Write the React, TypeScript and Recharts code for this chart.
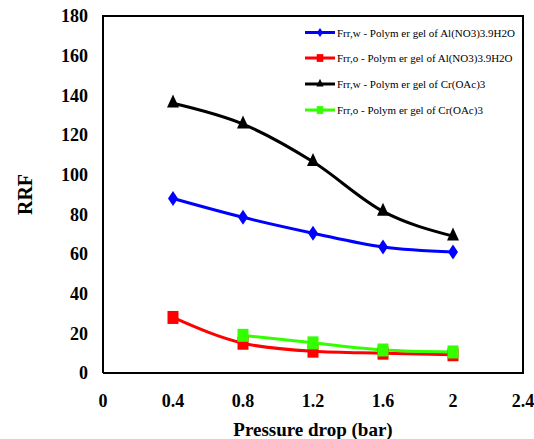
import React from 'react';
import * as Recharts from 'recharts';
import { LineChart, Line, XAxis, YAxis, Legend } from 'recharts';

const pressureDrop = [0.4, 0.8, 1.2, 1.6, 2.0];
const frrWAl = [88, 78.5, 70.5, 63.5, 61];
const frrOAl = [28, 15, 11, 10, 9.2];
const frrWCr = [136, 125.5, 106.5, 81.5, 69];
const frrOCr: (number | null)[] = [null, 19, 15.2, 11.6, 10.6];

const xTicks = [0, 0.4, 0.8, 1.2, 1.6, 2, 2.4];
const yTicks = [0, 20, 40, 60, 80, 100, 120, 140, 160, 180];
const xMax = 2.4;
const yMax = 180;

const seriesNames = [
  'Frr,w - Polym er gel of Al(NO3)3.9H2O',
  'Frr,o - Polym er gel of Al(NO3)3.9H2O',
  'Frr,w - Polym er gel of Cr(OAc)3',
  'Frr,o - Polym er gel of Cr(OAc)3',
];
const seriesKeys = ['wAl', 'oAl', 'wCr', 'oCr'];
const seriesColors = ['#0000ff', '#ff0000', '#000000', '#33ff00'];
const seriesShapes = ['diamond', 'square', 'triangle', 'square'];

const data = pressureDrop.map((p, i) => ({
  p,
  wAl: frrWAl[i],
  oAl: frrOAl[i],
  wCr: frrWCr[i],
  oCr: frrOCr[i],
}));

const FONT = '"Liberation Serif", "Times New Roman", serif';
const W = 534;
const H = 439;
const MARGIN = { top: 16, right: 11, bottom: 0, left: 0 };
const Y_AXIS_W = 103;
const X_AXIS_H = 66;

const usePlotAreaSafe: () => any = (Recharts as any).usePlotArea || (() => null);

function shapePath(shape: string, cx: number, cy: number, s: number) {
  if (shape === 'diamond') {
    const w = 5 * s, h = 7.5 * s;
    return `M${cx},${cy - h}L${cx + w},${cy}L${cx},${cy + h}L${cx - w},${cy}Z`;
  }
  if (shape === 'triangle') {
    const w = 6 * s, h = 13 * s;
    return `M${cx},${cy - (h * 2) / 3}L${cx + w},${cy + h / 3}L${cx - w},${cy + h / 3}Z`;
  }
  const w = 5.5 * s, h = 6.5 * s;
  return `M${cx - w},${cy - h}L${cx + w},${cy - h}L${cx + w},${cy + h}L${cx - w},${cy + h}Z`;
}

const makeDot = (shape: string, color: string, key: string) => (props: any) => {
  const { cx, cy, index, value } = props;
  if (cx == null || cy == null || value == null || isNaN(cx) || isNaN(cy)) {
    return <g key={`${key}-${index}`} />;
  }
  return <path key={`${key}-${index}`} d={shapePath(shape, cx, cy, 1)} fill={color} />;
};

const LegendContent = () => {
  const pa = usePlotAreaSafe();
  const area = pa && isFinite(pa.width)
    ? pa
    : {
        x: MARGIN.left + Y_AXIS_W,
        y: MARGIN.top,
        width: W - MARGIN.left - MARGIN.right - Y_AXIS_W,
        height: H - MARGIN.top - MARGIN.bottom - X_AXIS_H,
      };
  const left = area.x;
  const top = area.y;
  const right = area.x + area.width;
  const bottom = area.y + area.height;
  const rowsY = [32.5, 58, 84, 110];
  const legendX = right - 218;
  return (
    <svg width={W} height={H} style={{ position: 'absolute', top: 0, left: 0, pointerEvents: 'none', overflow: 'visible' }}>
      <path
        d={`M${left},${bottom}L${left},${top}L${right},${top}L${right},${bottom}L${left},${bottom}`}
        fill="none"
        stroke="#000"
        strokeWidth={2}
      />
      {seriesNames.map((name, i) => (
        <g key={name}>
          <line x1={legendX} x2={legendX + 30} y1={rowsY[i]} y2={rowsY[i]} stroke={seriesColors[i]} strokeWidth={3} />
          <path d={shapePath(seriesShapes[i], legendX + 15, rowsY[i], 0.6)} fill={seriesColors[i]} />
          <text
            x={legendX + 32}
            y={rowsY[i]}
            dominantBaseline="central"
            fontFamily={FONT}
            fontSize={11}
            fill="#000"
          >
            {name}
          </text>
        </g>
      ))}
    </svg>
  );
};

const tickStyle = { fill: '#000', fontSize: 18, fontWeight: 'bold' as const, fontFamily: FONT };

export default function App() {
  return (
    <div style={{ width: W, height: H, position: 'fixed', top: 0, left: 0, background: '#fff' }}>
      <LineChart width={W} height={H} data={data} margin={MARGIN}>
        <XAxis
          dataKey="p"
          type="number"
          domain={[0, xMax]}
          ticks={xTicks}
          interval={0}
          tickLine={false}
          tickMargin={15}
          stroke="#000"
          strokeWidth={2}
          axisLine={true}
          tick={tickStyle}
          height={X_AXIS_H}
          label={{
            content: (props: any) => {
              const vb = props.viewBox || { x: 103, y: 373, width: 420, height: 66 };
              return (
                <text
                  x={vb.x + vb.width / 2}
                  y={vb.y + 56}
                  textAnchor="middle"
                  dominantBaseline="central"
                  fontFamily={FONT}
                  fontWeight="bold"
                  fontSize={19}
                  fill="#000"
                >
                  Pressure drop (bar)
                </text>
              );
            },
          }}
        />
        <YAxis
          type="number"
          domain={[0, yMax]}
          ticks={yTicks}
          interval={0}
          tickLine={false}
          tickMargin={9}
          stroke="#000"
          strokeWidth={2}
          axisLine={true}
          tick={tickStyle}
          width={Y_AXIS_W}
          label={{
            content: (props: any) => {
              const vb = props.viewBox || { x: 0, y: 16, width: 103, height: 357 };
              const x = vb.x + 25;
              const y = vb.y + vb.height / 2;
              return (
                <text
                  x={x}
                  y={y}
                  textAnchor="middle"
                  dominantBaseline="central"
                  transform={`rotate(-90, ${x}, ${y})`}
                  fontFamily={FONT}
                  fontWeight="bold"
                  fontSize={20}
                  fill="#000"
                >
                  RRF
                </text>
              );
            },
          }}
        />
        {seriesKeys.map((k, i) => (
          <Line
            key={k}
            dataKey={k}
            name={seriesNames[i]}
            type="monotone"
            stroke={seriesColors[i]}
            strokeWidth={3}
            dot={makeDot(seriesShapes[i], seriesColors[i], k)}
            activeDot={false}
            isAnimationActive={false}
            connectNulls={false}
          />
        ))}
        <Legend
          layout="vertical"
          align="center"
          verticalAlign="middle"
          content={<LegendContent />}
          wrapperStyle={{ position: 'absolute', top: 0, left: 0, width: W, height: H, pointerEvents: 'none' }}
        />
      </LineChart>
    </div>
  );
}
